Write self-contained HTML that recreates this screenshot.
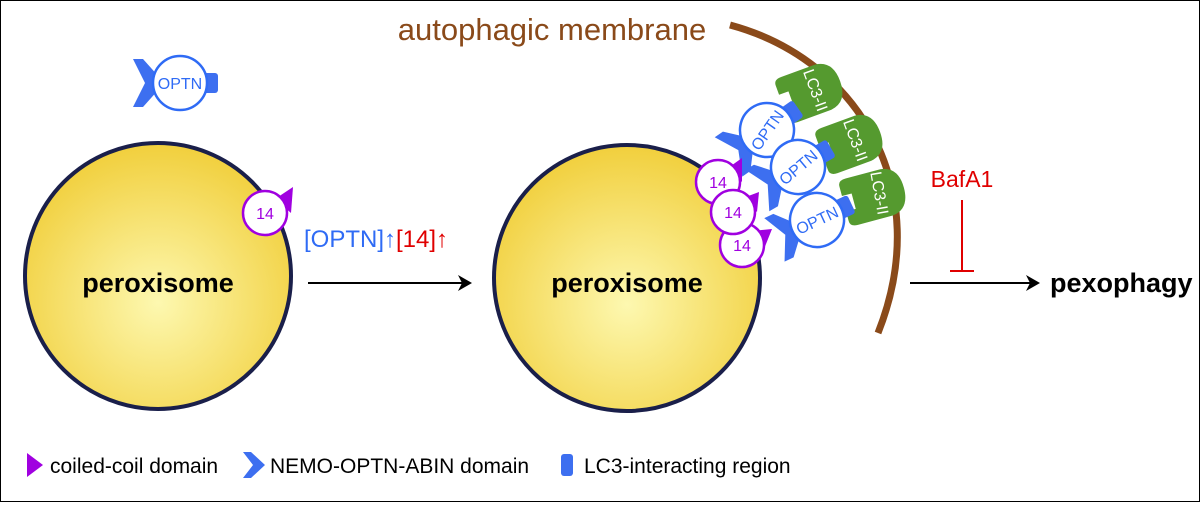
<!DOCTYPE html>
<html><head><style>body{margin:0}svg text{font-family:"Liberation Sans",sans-serif}</style></head><body>
<svg width="1200" height="502" viewBox="0 0 1200 502" xmlns="http://www.w3.org/2000/svg">
<defs>
<radialGradient id="g" cx="0.5" cy="0.6" r="0.6"><stop offset="0" stop-color="#fdf8b0"/><stop offset="1" stop-color="#f1cf3c"/></radialGradient>
<g id="optn"><path d="M-47,-24 L-37,-24 L-20,-5 L-20,5 L-37,24 L-47,24 L-35,0 Z" fill="#3d6ff0"/><rect x="22" y="-10" width="16" height="20" rx="3" fill="#3d6ff0"/><circle r="27" fill="#fff" stroke="#2f6bf5" stroke-width="2.5"/></g>
<g id="lc3"><path d="M-30,-18 Q-30,-24 -22,-24 L14,-24 Q32,-22 32,0 Q32,22 14,24 L-22,24 Q-30,24 -30,18 L-30,8 L-20,8 L-20,-8 L-30,-8 Z" fill="#559a2f"/></g>
</defs>
<rect x="0.5" y="0.5" width="1199" height="501" fill="#fff" stroke="#000"/>
<circle cx="158" cy="276" r="133" fill="url(#g)" stroke="#1a1f4a" stroke-width="4"/>
<circle cx="627" cy="278" r="133" fill="url(#g)" stroke="#1a1f4a" stroke-width="4"/>
<text x="158" y="292" font-size="27" font-weight="bold" text-anchor="middle">peroxisome</text>
<text x="627" y="292" font-size="27" font-weight="bold" text-anchor="middle">peroxisome</text>
<g transform="translate(180,83)"><use href="#optn"/><text y="6" font-size="16" fill="#2f6bf5" text-anchor="middle">OPTN</text></g>
<g transform="translate(265,213)"><path d="M10,-14 L28,-26 L26,0Z" fill="#a000e0"/><circle r="22" fill="#fff" stroke="#a000e0" stroke-width="2.5"/><text y="6" font-size="16" fill="#a000e0" text-anchor="middle">14</text></g>
<path d="M730,25 C860,60 935,190 878,333" fill="none" stroke="#8a4a1a" stroke-width="7"/>
<text x="552" y="40" font-size="31" fill="#8a4a1a" text-anchor="middle">autophagic membrane</text>
<g transform="translate(810,92) rotate(-20)"><use href="#lc3"/></g>
<g transform="translate(850,143) rotate(-20)"><use href="#lc3"/></g>
<g transform="translate(873,196) rotate(-15)"><use href="#lc3"/></g>
<text transform="translate(816,90) rotate(70)" font-size="16" fill="#fff" text-anchor="middle" y="6">LC3-II</text>
<text transform="translate(856,140) rotate(70)" font-size="16" fill="#fff" text-anchor="middle" y="6">LC3-II</text>
<text transform="translate(880,193) rotate(80)" font-size="16" fill="#fff" text-anchor="middle" y="6">LC3-II</text>
<g transform="translate(767,130) rotate(-35)"><use href="#optn"/></g>
<text transform="translate(767,130) rotate(-55)" y="6" font-size="16" fill="#2f6bf5" text-anchor="middle">OPTN</text>
<g transform="translate(798,167) rotate(-30)"><use href="#optn"/></g>
<text transform="translate(798,167) rotate(-40)" y="6" font-size="16" fill="#2f6bf5" text-anchor="middle">OPTN</text>
<g transform="translate(817,220) rotate(-25)"><use href="#optn"/></g>
<text transform="translate(817,220) rotate(-25)" y="6" font-size="16" fill="#2f6bf5" text-anchor="middle">OPTN</text>
<g transform="translate(718,182)"><path d="M10,-14 L24,-24 L24,0Z" fill="#a000e0"/><circle r="22" fill="#fff" stroke="#a000e0" stroke-width="2.5"/><text y="6" font-size="16" fill="#a000e0" text-anchor="middle">14</text></g>
<g transform="translate(742,245)"><path d="M10,-14 L30,-16 L22,4Z" fill="#a000e0"/><circle r="22" fill="#fff" stroke="#a000e0" stroke-width="2.5"/><text y="6" font-size="16" fill="#a000e0" text-anchor="middle">14</text></g>
<g transform="translate(733,212)"><path d="M10,-14 L26,-20 L24,0Z" fill="#a000e0"/><circle r="22" fill="#fff" stroke="#a000e0" stroke-width="2.5"/><text y="6" font-size="16" fill="#a000e0" text-anchor="middle">14</text></g>
<line x1="308" y1="283" x2="462" y2="283" stroke="#000" stroke-width="2"/><path d="M472,283 L458,275 L462,283 L458,291Z" fill="#000"/>
<text x="304" y="247" font-size="24"><tspan fill="#2f6bf5">[OPTN]↑</tspan><tspan fill="#e00000">[14]↑</tspan></text>
<line x1="910" y1="283" x2="1030" y2="283" stroke="#000" stroke-width="2"/><path d="M1040,283 L1026,275 L1030,283 L1026,291Z" fill="#000"/>
<text x="962" y="187" font-size="23" fill="#e00000" text-anchor="middle">BafA1</text>
<line x1="962" y1="200" x2="962" y2="270" stroke="#e00000" stroke-width="2"/><line x1="950" y1="271" x2="974" y2="271" stroke="#e00000" stroke-width="2"/>
<text x="1050" y="292" font-size="27" font-weight="bold">pexophagy</text>
<path d="M27,453 L43,465 L27,477Z" fill="#a000e0"/>
<text x="50" y="473" font-size="21">coiled-coil domain</text>
<path d="M243,452 L251,452 L265,465 L251,478 L243,478 L253,465Z" fill="#3d6ff0"/>
<text x="270" y="473" font-size="21">NEMO-OPTN-ABIN domain</text>
<rect x="561" y="454" width="12" height="22" rx="3" fill="#3d6ff0"/>
<text x="584" y="473" font-size="21">LC3-interacting region</text>
</svg>
</body></html>
